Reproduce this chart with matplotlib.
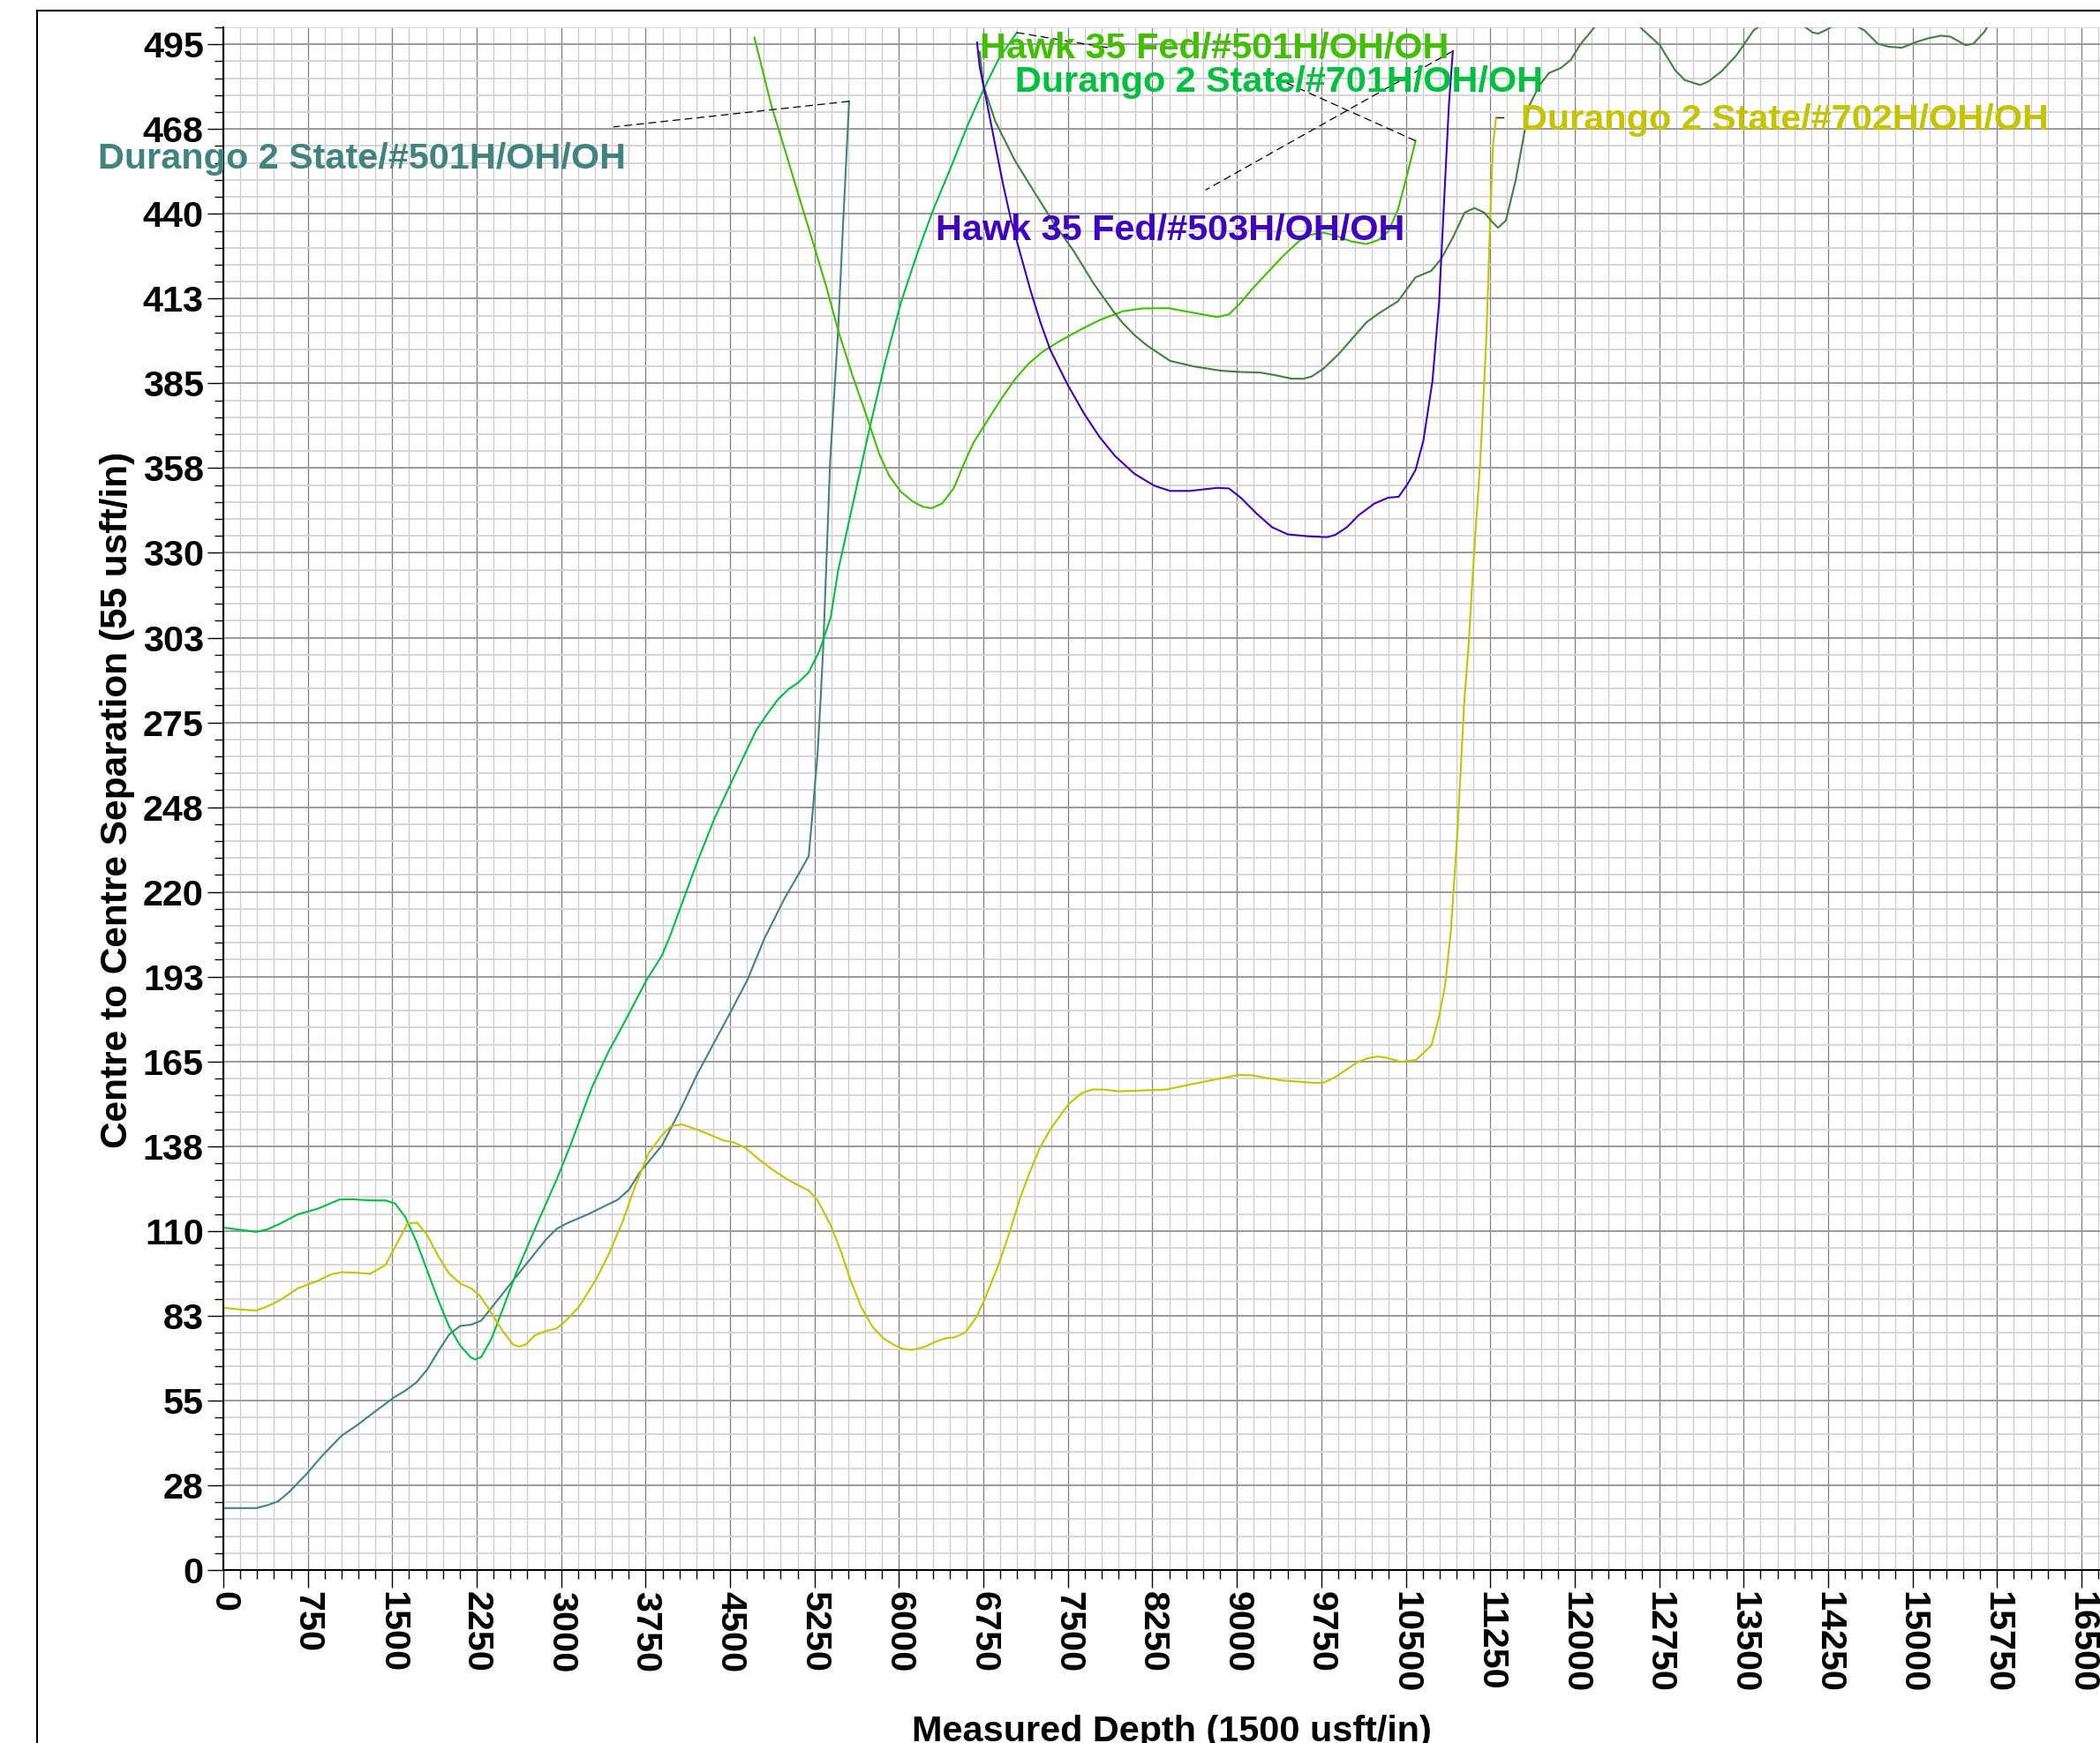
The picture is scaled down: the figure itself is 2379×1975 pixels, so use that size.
import matplotlib
matplotlib.use('Agg')
import matplotlib.pyplot as plt
from matplotlib.lines import Line2D
from matplotlib.ticker import FixedLocator

plt.rcParams['font.family'] = ['Liberation Sans', 'DejaVu Sans']

# ---------------- data ----------------
x_ticks = list(range(0, 16501, 750))
x_tick_labels = [str(v) for v in x_ticks]
y_ticks = [0, 27.5, 55, 82.5, 110, 137.5, 165, 192.5, 220, 247.5, 275, 302.5,
           330, 357.5, 385, 412.5, 440, 467.5, 495]
y_tick_labels = ['0', '28', '55', '83', '110', '138', '165', '193', '220', '248',
                 '275', '303', '330', '358', '385', '413', '440', '468', '495']

d501_x = [0, 292, 389, 487, 584, 740, 876, 1051, 1188, 1343, 1519, 1616, 1713, 1811, 1908,
          2005, 2103, 2200, 2290, 2414, 2570, 2726, 2862, 2960, 3057, 3232, 3388, 3505,
          3602, 3700, 3894, 4050, 4206, 4361, 4517, 4653, 4809, 4984, 5101, 5198, 5237,
          5276, 5304, 5328, 5389, 5459, 5504, 5557]
d501_y = [20.1, 20.1, 21.0, 22.3, 25.3, 31.2, 37.0, 43.6, 47.0, 51.3, 56.1, 58.2, 60.8,
          65.1, 70.9, 76.4, 79.2, 79.6, 80.9, 86.6, 93.8, 100.9, 107.1, 110.7, 112.6,
          115.3, 118.1, 120.2, 123.4, 129.1, 137.7, 148.7, 160.7, 171.3, 181.9, 191.4,
          205.2, 217.9, 225.3, 231.6, 247.5, 264.5, 282.5, 300.0, 360.0, 402.0, 437.0, 476.5]

d701_x = [0, 292, 389, 506, 662, 837, 1032, 1129, 1324, 1441, 1526, 1616, 1713, 1811, 1908,
          2005, 2103, 2200, 2239, 2290, 2383, 2492, 2609, 2765, 2960, 3076, 3193, 3271,
          3419, 3544, 3758, 3894, 3972, 4089, 4206, 4361, 4517, 4731, 4829, 4926, 5023,
          5101, 5198, 5296, 5393, 5459, 5599, 5738, 5878, 6017, 6157, 6296, 6471, 6610,
          6750, 6889, 7046]
d701_y = [111.1, 109.7, 110.5, 112.4, 115.4, 117.2, 120.2, 120.3, 119.9, 119.9, 118.9,
          114.5, 106.7, 97.1, 87.6, 79.0, 72.8, 68.9, 68.3, 69.1, 75.2, 85.7, 97.1, 110.5,
          126.7, 137.2, 148.7, 156.4, 168.1, 176.5, 191.4, 199.3, 206.2, 217.9, 229.5,
          243.8, 256.0, 272.4, 277.7, 282.5, 285.9, 287.8, 291.2, 298.4, 309.0, 324.2,
          347.3, 370.3, 392.0, 411.2, 426.6, 440.6, 456.0, 468.8, 480.3, 490.5, 498.8]

h501_x = [4716, 4866, 5006, 5110, 5250, 5355, 5459, 5581, 5703, 5826, 5913, 6017, 6122,
          6209, 6289, 6383, 6488, 6575, 6662, 6785, 6907, 7029, 7151, 7273, 7412, 7605,
          7779, 7988, 8163, 8389, 8616, 8826, 8930, 9035, 9139, 9279, 9418, 9558, 9663,
          9767, 9872, 10012, 10151, 10256, 10343, 10430, 10500, 10552, 10587]
h501_y = [497.2, 475.2, 458.5, 445.8, 429.1, 416.3, 402.3, 388.2, 375.4, 362.0, 355.0,
          349.8, 346.7, 345.0, 344.5, 346.0, 351.1, 358.8, 365.8, 372.9, 379.9, 386.3,
          391.4, 395.2, 398.4, 402.3, 405.5, 408.4, 409.3, 409.4, 407.9, 406.5, 407.4,
          411.2, 415.7, 421.2, 426.6, 431.3, 433.3, 433.9, 433.0, 431.1, 430.2, 431.5,
          434.2, 441.3, 450.9, 458.5, 463.7]

h503_x = [6693, 6715, 6785, 6854, 6924, 6994, 7081, 7168, 7256, 7343, 7412, 7500, 7640,
          7779, 7919, 8093, 8267, 8407, 8581, 8826, 8930, 9035, 9174, 9314, 9453, 9628,
          9802, 9872, 9977, 10081, 10221, 10343, 10437, 10517, 10587, 10657, 10737, 10796,
          10848, 10883, 10918]
h503_y = [495.6, 488.0, 475.2, 462.4, 449.6, 438.1, 426.6, 415.1, 404.8, 395.9, 390.8,
          384.4, 375.4, 367.7, 361.4, 355.6, 351.8, 350.1, 350.1, 351.1, 350.9, 347.9,
          342.8, 338.3, 336.0, 335.4, 335.1, 335.8, 338.3, 342.2, 346.0, 347.9, 348.2,
          352.4, 356.9, 366.5, 385.7, 411.2, 449.6, 475.2, 492.8]

other_x = [6716, 6750, 6854, 7029, 7203, 7378, 7552, 7726, 7901, 7988, 8093, 8198, 8407,
           8616, 8860, 9035, 9209, 9349, 9488, 9593, 9663, 9767, 9907, 10046, 10151, 10256,
           10430, 10587, 10726, 10813, 10918, 11023, 11110, 11197, 11267, 11319, 11389,
           11476, 11546, 11598, 11685, 11772, 11877, 11964, 12051, 12146, 12370, 12597,
           12757, 12892, 12977, 13113, 13181, 13300, 13436, 13588, 13850, 14114, 14165,
           14223, 14400, 14573, 14691, 14793, 14905, 15031, 15133, 15251, 15336, 15404,
           15472, 15540, 15642, 15800]
other_y = [492.6, 481.6, 470.1, 457.3, 447.0, 436.8, 427.9, 417.5, 408.5, 404.5, 400.6,
           397.4, 392.3, 390.5, 389.1, 388.7, 388.5, 387.6, 386.5, 386.5, 387.2, 389.7,
           394.6, 400.4, 404.8, 407.6, 411.6, 419.4, 421.5, 425.3, 432.3, 440.4, 441.9,
           440.4, 437.4, 435.5, 437.8, 450.9, 464.9, 475.2, 481.6, 485.7, 487.3, 489.9,
           495.0, 499.2, 510.0, 500.0, 494.7, 486.6, 483.4, 481.8, 482.8, 486.1, 491.4,
           499.5, 506.0, 498.8, 498.5, 499.5, 503.0, 499.5, 495.2, 494.2, 493.9, 495.7,
           496.9, 497.8, 497.5, 496.1, 494.7, 495.2, 499.2, 510.0]

d702_x = [0, 156, 292, 389, 506, 662, 837, 954, 1051, 1168, 1304, 1441, 1538, 1635, 1721,
          1811, 1908, 2005, 2103, 2200, 2278, 2375, 2473, 2570, 2628, 2687, 2765, 2862,
          2960, 3037, 3154, 3310, 3427, 3544, 3660, 3777, 3894, 3972, 4069, 4206, 4322,
          4439, 4536, 4634, 4751, 4867, 5023, 5198, 5276, 5393, 5490, 5568, 5666, 5763,
          5860, 5958, 6027, 6113, 6221, 6319, 6416, 6494, 6591, 6688, 6766, 6882, 6979,
          7076, 7154, 7251, 7348, 7504, 7621, 7718, 7815, 7951, 8165, 8378, 8553, 8747,
          8942, 9019, 9136, 9253, 9408, 9563, 9719, 9777, 9874, 9971, 10068, 10166, 10255,
          10341, 10457, 10593, 10729, 10799, 10850, 10900, 10960, 11020, 11058, 11093,
          11162, 11214, 11249, 11274, 11302]
d702_y = [85.1, 84.5, 84.2, 85.5, 87.6, 91.4, 93.8, 95.9, 96.6, 96.5, 96.1, 99.0, 105.7,
          112.4, 112.7, 108.6, 101.9, 96.2, 93.0, 91.4, 89.0, 83.7, 78.0, 73.2, 72.5, 73.2,
          76.1, 77.5, 78.4, 80.7, 85.2, 94.3, 102.8, 112.9, 124.8, 135.3, 141.0, 143.9,
          144.6, 142.9, 141.2, 139.4, 138.7, 137.0, 133.4, 130.1, 126.4, 123.1, 120.0,
          111.9, 102.8, 94.2, 85.2, 79.0, 75.2, 73.0, 71.8, 71.4, 72.3, 74.0, 75.2, 75.5,
          77.1, 82.1, 88.3, 98.8, 109.3, 120.8, 128.4, 137.0, 143.2, 151.1, 154.7, 155.9,
          155.9, 155.3, 155.6, 155.9, 157.3, 158.7, 160.1, 160.6, 160.5, 159.7, 158.8,
          158.4, 158.0, 158.2, 159.9, 162.3, 164.7, 166.1, 166.6, 166.1, 164.9, 165.5,
          170.3, 180.0, 190.0, 207.0, 240.0, 282.0, 300.0, 322.0, 360.0, 398.0, 437.0,
          462.0, 471.3]

series_names = ['Durango 2 State/#501H/OH/OH', 'Hawk 35 Fed/#501H/OH/OH',
                'Durango 2 State/#701H/OH/OH', 'Durango 2 State/#702H/OH/OH',
                'Hawk 35 Fed/#503H/OH/OH']

# ---------------- figure ----------------
W, H, DPI = 2379, 1975, 100
fig = plt.figure(figsize=(W / DPI, H / DPI), dpi=DPI)
fig.patch.set_facecolor('white')

AX_L, AX_T, AX_B = 253, 31, 1779
ax = fig.add_axes([AX_L / W, 1 - AX_B / H, (W - AX_L) / W, (AX_B - AX_T) / H])
xmax = (W - AX_L) * 750 / 95.68
ax.set_xlim(0, xmax)
ax.set_ylim(0, 500.5)

FS = 29.8
ax.set_xticks(x_ticks)
ax.set_xticklabels(x_tick_labels, fontsize=FS, fontweight='bold', rotation=-90)
ax.set_yticks(y_ticks)
ax.set_yticklabels(y_tick_labels, fontsize=FS, fontweight='bold')
ax.xaxis.set_minor_locator(FixedLocator([v * 150 for v in range(0, int(xmax // 150) + 1)]))
ax.yaxis.set_minor_locator(FixedLocator([v * 5.5 for v in range(0, 92)]))
ax.tick_params(axis='x', which='major', direction='out', length=14.4, width=1.0, pad=3)
ax.tick_params(axis='x', which='minor', direction='out', length=7.2, width=1.0)
ax.tick_params(axis='y', which='major', direction='out', length=13, width=1.0, pad=3)
ax.tick_params(axis='y', which='minor', direction='out', length=7.2, width=1.0)

ax.xaxis.grid(True, which='minor', color='#cdcdcd', lw=1.0, zorder=0)
ax.yaxis.grid(True, which='minor', color='#d6d6d6', lw=1.4, zorder=0)
ax.xaxis.grid(True, which='major', color='#7f7f7f', lw=0.9, zorder=0)
ax.yaxis.grid(True, which='major', color='#9a9a9a', lw=1.4, zorder=0)
ax.set_axisbelow(True)

for s in ['top', 'right']:
    ax.spines[s].set_visible(False)
for s in ['left', 'bottom']:
    ax.spines[s].set_linewidth(1.5)
    ax.spines[s].set_zorder(5)

LW = 1.5
ax.plot(d501_x, d501_y, color='#40837f', lw=LW, zorder=3)
ax.plot(d701_x, d701_y, color='#00c040', lw=LW, zorder=3)
ax.plot(d702_x, d702_y, color='#c4c400', lw=LW, zorder=3)
ax.plot(h501_x, h501_y, color='#40c000', lw=LW, zorder=3)
ax.plot(other_x, other_y, color='#408040', lw=LW, zorder=3)
ax.plot(h503_x, h503_y, color='#4000c0', lw=LW, zorder=3)

# leader lines (dashed)
dash = (0, (7, 4))
leaders = [
    ([d501_x[-1], 3464], [d501_y[-1], 468.2]),
    ([d701_x[-1], 7854], [d701_y[-1], 493.9]),
    ([h501_x[-1], 9336], [h501_y[-1], 484.2]),
    ([h503_x[-1], 8721], [h503_y[-1], 447.7]),
    ([d702_x[-1], 11400], [d702_y[-1], d702_y[-1]]),
]
for lx, ly in leaders:
    ax.plot(lx, ly, color='black', lw=0.9, linestyle=dash, zorder=4, clip_on=False)

# labels
def px2data(px, py):
    return (px - AX_L) * 750 / 95.68, (AX_B - py) * 500.5 / (AX_B - AX_T)

label_pos = [(111, 191), (1110, 66), (1150, 104), (1723, 147), (1060, 272)]
label_col = ['#40837f', '#40c000', '#00c040', '#c4c400', '#4000c0']
for name, (px, py), c in zip(series_names, label_pos, label_col):
    dx, dy = px2data(px, py)
    ax.text(dx, dy, name, color=c, fontsize=FS, fontweight='bold', ha='left',
            va='baseline', zorder=6, clip_on=False)

fig.text(1327.5 / W, 1 - 1973 / H, 'Measured Depth (1500 usft/in)', fontsize=FS,
         fontweight='bold', ha='center', va='baseline')
fig.text(133 / W, 1 - 906 / H, 'Centre to Centre Separation (55 usft/in)', fontsize=30.5,
         fontweight='bold', ha='center', va='center', rotation=90)

# outer frame (cropped at right and bottom)
fig.add_artist(Line2D([42 / W, 42 / W], [1 - 12 / H, 0], color='black', lw=1.5,
                      transform=fig.transFigure))
fig.add_artist(Line2D([42 / W, 1], [1 - 12 / H, 1 - 12 / H], color='black', lw=1.5,
                      transform=fig.transFigure))

fig.savefig('out.png', dpi=DPI, facecolor='white')
